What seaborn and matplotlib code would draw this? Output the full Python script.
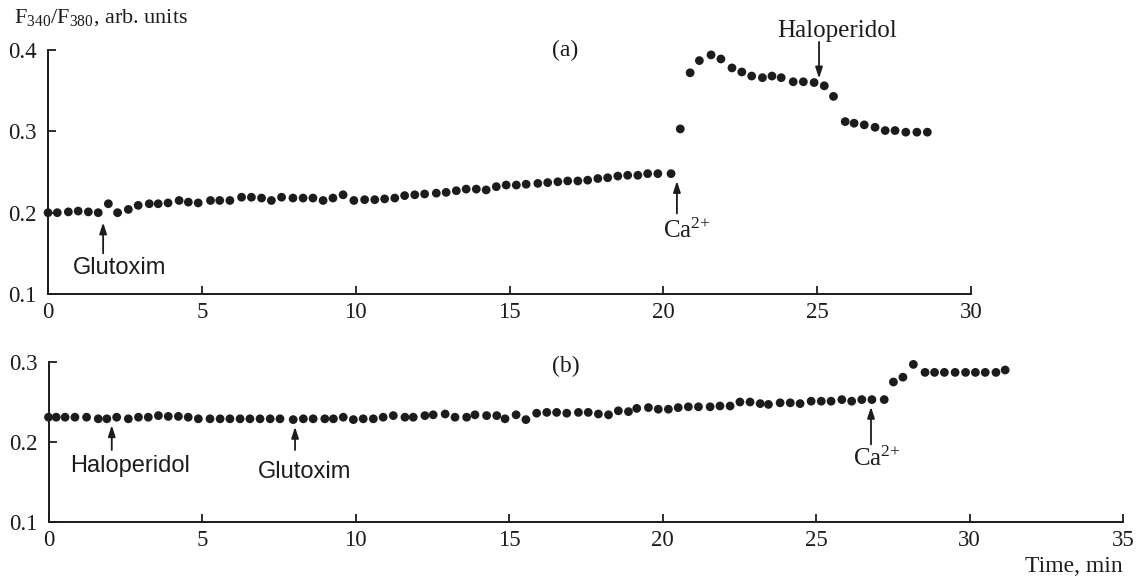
import matplotlib
matplotlib.use("Agg")
import matplotlib.pyplot as plt
import seaborn as sns
import pandas as pd

# ---------------- data ----------------
time_a = [0.0, 0.30, 0.66, 0.98, 1.31, 1.63, 1.96, 2.26, 2.61, 2.93,
          3.29, 3.58, 3.90, 4.26, 4.56, 4.88, 5.28, 5.58, 5.91, 6.29,
          6.61, 6.94, 7.26, 7.59, 7.96, 8.29, 8.61, 8.94, 9.26, 9.59,
          9.94, 10.29, 10.62, 10.94, 11.27, 11.59, 11.92, 12.24, 12.62, 12.94,
          13.27, 13.59, 13.92, 14.24, 14.57, 14.89, 15.22, 15.54, 15.92, 16.24,
          16.57, 16.89, 17.22, 17.54, 17.87, 18.19, 18.52, 18.84, 19.17, 19.49,
          19.82, 20.25, 20.55, 20.87, 21.17, 21.55, 21.87, 22.23, 22.55, 22.87,
          23.22, 23.53, 23.83, 24.22, 24.55, 24.90, 25.23, 25.53, 25.91, 26.20,
          26.53, 26.88, 27.21, 27.53, 27.88, 28.24, 28.58]
ratio_a = [0.200, 0.200, 0.201, 0.202, 0.201, 0.200, 0.211, 0.200, 0.204, 0.209,
           0.211, 0.211, 0.212, 0.215, 0.213, 0.212, 0.215, 0.215, 0.215, 0.219,
           0.219, 0.218, 0.215, 0.219, 0.218, 0.218, 0.218, 0.215, 0.218, 0.222,
           0.215, 0.216, 0.216, 0.217, 0.218, 0.221, 0.222, 0.223, 0.224, 0.225,
           0.227, 0.229, 0.229, 0.228, 0.232, 0.234, 0.234, 0.235, 0.236, 0.237,
           0.238, 0.239, 0.239, 0.240, 0.242, 0.243, 0.245, 0.246, 0.246, 0.248,
           0.248, 0.248, 0.303, 0.372, 0.387, 0.394, 0.389, 0.378, 0.373, 0.368,
           0.366, 0.368, 0.366, 0.361, 0.361, 0.360, 0.356, 0.343, 0.312, 0.310,
           0.308, 0.305, 0.301, 0.301, 0.299, 0.299, 0.299]

time_b = [0.0, 0.25, 0.54, 0.86, 1.24, 1.62, 1.90, 2.22, 2.60, 2.93,
          3.25, 3.58, 3.90, 4.23, 4.55, 4.88, 5.26, 5.59, 5.91, 6.24,
          6.56, 6.89, 7.22, 7.54, 7.97, 8.30, 8.62, 9.00, 9.28, 9.60,
          9.93, 10.25, 10.58, 10.90, 11.23, 11.61, 11.88, 12.26, 12.53, 12.92,
          13.24, 13.62, 13.89, 14.27, 14.60, 14.87, 15.23, 15.55, 15.90, 16.23,
          16.55, 16.88, 17.26, 17.58, 17.91, 18.24, 18.56, 18.89, 19.16, 19.54,
          19.86, 20.19, 20.51, 20.84, 21.17, 21.55, 21.87, 22.20, 22.52, 22.85,
          23.18, 23.45, 23.83, 24.16, 24.48, 24.84, 25.17, 25.49, 25.84, 26.16,
          26.49, 26.82, 27.22, 27.52, 27.83, 28.17, 28.55, 28.86, 29.18, 29.53,
          29.87, 30.19, 30.51, 30.86, 31.16]
ratio_b = [0.231, 0.231, 0.231, 0.231, 0.231, 0.229, 0.229, 0.231, 0.229, 0.231,
           0.231, 0.233, 0.232, 0.232, 0.231, 0.229, 0.229, 0.229, 0.229, 0.229,
           0.229, 0.229, 0.229, 0.229, 0.228, 0.229, 0.229, 0.229, 0.229, 0.231,
           0.228, 0.229, 0.229, 0.231, 0.233, 0.231, 0.231, 0.233, 0.234, 0.235,
           0.231, 0.231, 0.234, 0.233, 0.233, 0.229, 0.234, 0.228, 0.236, 0.237,
           0.237, 0.236, 0.237, 0.237, 0.235, 0.234, 0.239, 0.238, 0.242, 0.243,
           0.241, 0.241, 0.243, 0.244, 0.244, 0.244, 0.245, 0.245, 0.250, 0.250,
           0.248, 0.247, 0.249, 0.249, 0.248, 0.251, 0.251, 0.251, 0.253, 0.251,
           0.253, 0.253, 0.253, 0.275, 0.281, 0.297, 0.287, 0.287, 0.287, 0.287,
           0.287, 0.287, 0.287, 0.287, 0.290]

xticks_a = [0, 5, 10, 15, 20, 25, 30]
xticks_b = [0, 5, 10, 15, 20, 25, 30, 35]
yticks_a = [0.1, 0.2, 0.3, 0.4]
yticks_b = [0.1, 0.2, 0.3]

# ---------------- style ----------------
sns.set_theme(style="ticks")
plt.rcParams["font.family"] = ["Liberation Serif", "DejaVu Serif"]
plt.rcParams["mathtext.fontset"] = "custom"
plt.rcParams["mathtext.rm"] = "Liberation Serif"
plt.rcParams["mathtext.it"] = "Liberation Serif:italic"
plt.rcParams["mathtext.bf"] = "Liberation Serif:bold"

INK = "#1c1c1c"
SANS = ["Liberation Sans", "DejaVu Sans"]

fig = plt.figure(figsize=(11.44, 5.79), dpi=100)
ax_a = fig.add_axes([0.0420, 0.4922, 0.8068, 0.4214])
ax_b = fig.add_axes([0.0424, 0.0984, 0.9393, 0.2764])

df_a = pd.DataFrame({"t": time_a, "r": ratio_a})
df_b = pd.DataFrame({"t": time_b, "r": ratio_b})

for ax, df, xt, yt, xmax, ymax in [(ax_a, df_a, xticks_a, yticks_a, 30, 0.4),
                                   (ax_b, df_b, xticks_b, yticks_b, 35, 0.3)]:
    sns.scatterplot(data=df, x="t", y="r", ax=ax, s=40, color=INK,
                    edgecolor="none", linewidth=0, clip_on=False, zorder=3)
    ax.set_xlim(0, xmax)
    ax.set_ylim(0.1, ymax)
    ax.set_xticks(xt)
    ax.set_xticklabels([str(v) for v in xt])
    ax.set_yticks(yt)
    ax.set_yticklabels([f"{v:.1f}" for v in yt])
    ax.set_xlabel("")
    ax.set_ylabel("")
    for side in ("top", "right"):
        ax.spines[side].set_visible(False)
    for side in ("left", "bottom"):
        ax.spines[side].set_linewidth(1.4)
        ax.spines[side].set_color(INK)
    ax.tick_params(axis="both", direction="in", length=6, width=1.3,
                   colors=INK, labelsize=16.5)
    ax.tick_params(axis="x", pad=6)
    ax.tick_params(axis="y", pad=8)
    ax.patch.set_alpha(0)

arrow = dict(arrowstyle="-|>,head_length=0.55,head_width=0.18", color=INK, lw=1.3,
             shrinkA=0, shrinkB=0)
CA = "Ca$^{2{+}}$"

# ---- panel (a) annotations ----
ax_a.annotate("", xy=(1.79, 0.188), xytext=(1.79, 0.150), arrowprops=arrow,
              annotation_clip=False)
ax_a.text(2.34, 0.132, "Glutoxim", ha="center", va="center", fontsize=17,
          family=SANS, color=INK)
ax_a.annotate("", xy=(20.44, 0.239), xytext=(20.44, 0.199), arrowprops=arrow,
              annotation_clip=False)
ax_a.text(20.75, 0.178, CA, ha="center", va="center", fontsize=18, color=INK)
ax_a.annotate("", xy=(25.06, 0.365), xytext=(25.06, 0.410), arrowprops=arrow,
              annotation_clip=False)
ax_a.text(25.65, 0.424, "Haloperidol", ha="center", va="center", fontsize=18,
          color=INK, clip_on=False)
ax_a.text(16.8, 0.400, "(a)", ha="center", va="center", fontsize=17, color=INK)

# ---- panel (b) annotations ----
ax_b.annotate("", xy=(2.06, 0.221), xytext=(2.06, 0.190), arrowprops=arrow,
              annotation_clip=False)
ax_b.text(2.65, 0.170, "Haloperidol", ha="center", va="center", fontsize=17,
          family=SANS, color=INK)
ax_b.annotate("", xy=(8.03, 0.219), xytext=(8.03, 0.190), arrowprops=arrow,
              annotation_clip=False)
ax_b.text(8.35, 0.163, "Glutoxim", ha="center", va="center", fontsize=17,
          family=SANS, color=INK)
ax_b.annotate("", xy=(26.79, 0.244), xytext=(26.79, 0.197), arrowprops=arrow,
              annotation_clip=False)
ax_b.text(26.99, 0.179, CA, ha="center", va="center", fontsize=18, color=INK)
ax_b.text(16.86, 0.294, "(b)", ha="center", va="center", fontsize=17, color=INK)

# ---- axis titles ----
fig.text(0.012, 0.969, "F$_{340}$/F$_{380}$, arb. units", ha="left",
         va="center", fontsize=16, color=INK)
fig.text(0.981, 0.021, "Time, min", ha="right", va="center", fontsize=17,
         color=INK)

fig.savefig("out.png", dpi=100, facecolor="white")
